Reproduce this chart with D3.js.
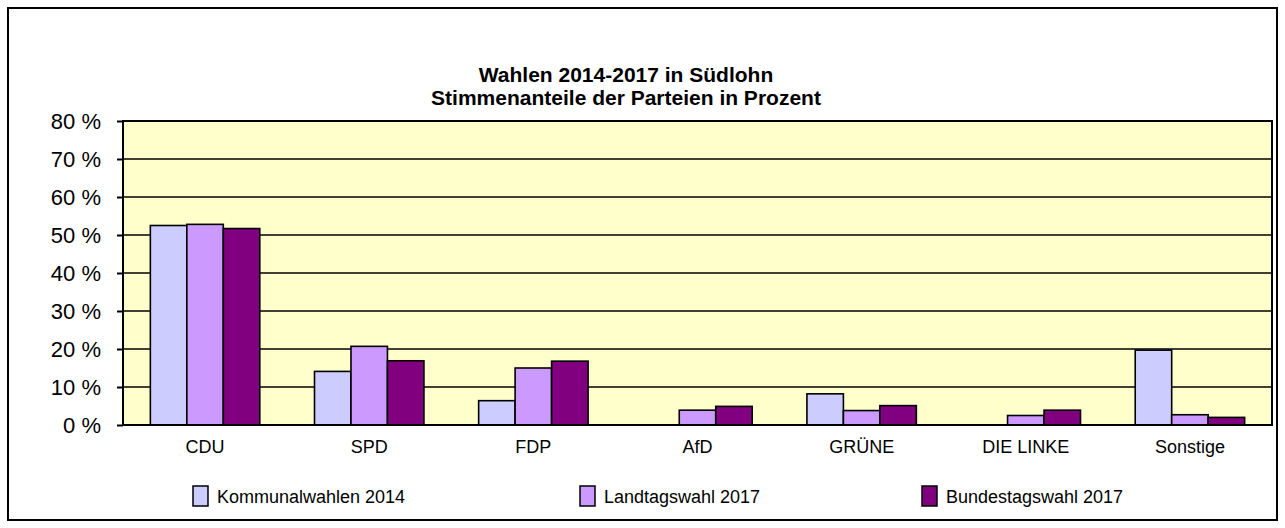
<!DOCTYPE html>
<html><head><meta charset="utf-8">
<script src="https://cdn.jsdelivr.net/npm/d3@7"></script>
<style>html,body{margin:0;padding:0;background:#fff;} svg{display:block;font-family:"Liberation Sans",Arial,sans-serif;}</style>
</head><body>
<script>
const categories = ["CDU","SPD","FDP","AfD","GRÜNE","DIE LINKE","Sonstige"];
const seriesNames = ["Kommunalwahlen 2014","Landtagswahl 2017","Bundestagswahl 2017"];
const kommunal2014 = [52.5,14.1,6.4,0,8.2,0,19.7];
const landtag2017 = [52.8,20.7,15.0,3.9,3.8,2.5,2.7];
const bundestag2017 = [51.7,16.9,16.8,4.9,5.1,3.9,2.0];
const yTicks = [0,10,20,30,40,50,60,70,80];
const titleLines = ["Wahlen 2014-2017 in Südlohn","Stimmenanteile der Parteien in Prozent"];
const colors = ["#CCCCFF","#CC99FF","#800080"];

const W=1285,H=528;
const plot={l:123,r:1272,t:121,b:425};
const svg=d3.select("body").append("svg").attr("width",W).attr("height",H);

svg.append("rect").attr("x",8).attr("y",8).attr("width",1269).attr("height",512)
  .attr("fill","#fff").attr("stroke","#000").attr("stroke-width",2);

const x=d3.scaleBand().domain(categories).range([plot.l,plot.r]).padding(0);
const xs=d3.scaleBand().domain(d3.range(3)).range([0,x.bandwidth()]).paddingInner(0).paddingOuter(0.75);
const y=d3.scaleLinear().domain([0,80]).range([plot.b,plot.t]);

svg.append("rect").attr("x",plot.l).attr("y",plot.t).attr("width",plot.r-plot.l).attr("height",plot.b-plot.t)
  .attr("fill","#FFFFCC");

// gridlines
svg.append("g").selectAll("line").data(yTicks.filter(d=>d>0&&d<80)).join("line")
  .attr("x1",plot.l).attr("x2",plot.r).attr("y1",d=>y(d)).attr("y2",d=>y(d))
  .attr("stroke","#000").attr("stroke-width",1.6);

const series=[kommunal2014,landtag2017,bundestag2017];
series.forEach((vals,si)=>{
  svg.append("g").selectAll("rect").data(vals.map((v,i)=>({c:categories[i],v})).filter(d=>d.v>0)).join("rect")
    .attr("x",d=>x(d.c)+xs(si)).attr("width",xs.bandwidth())
    .attr("y",d=>y(d.v)).attr("height",d=>y(0)-y(d.v))
    .attr("fill",colors[si]).attr("stroke","#000").attr("stroke-width",1.6);
});

// plot border
svg.append("rect").attr("x",plot.l).attr("y",plot.t).attr("width",plot.r-plot.l).attr("height",plot.b-plot.t)
  .attr("fill","none").attr("stroke","#000").attr("stroke-width",2);

// y axis
const yAxis=d3.axisLeft(y).tickValues(yTicks).tickSize(6).tickPadding(16).tickFormat(d=>d+" %");
const ga=svg.append("g").attr("transform",`translate(${plot.l},0)`).call(yAxis);
ga.select(".domain").remove();
ga.selectAll("line").attr("stroke","#000").attr("stroke-width",2);
ga.selectAll("text").attr("font-size",22).attr("fill","#000").attr("font-family","Liberation Sans, Arial, sans-serif");

// x axis labels
const xAxis=d3.axisBottom(x).tickSize(0).tickPadding(15);
const gx=svg.append("g").attr("transform",`translate(0,${plot.b})`).call(xAxis);
gx.select(".domain").remove();
gx.selectAll("text").attr("font-size",18).attr("fill","#000").attr("font-family","Liberation Sans, Arial, sans-serif");

// title
svg.append("g").selectAll("text").data(titleLines).join("text")
  .attr("x",626).attr("y",(d,i)=>82+i*23).attr("text-anchor","middle")
  .attr("font-size",21).attr("font-weight","bold").text(d=>d);

// legend
const legX=[193,580,922];
const lg=svg.append("g").selectAll("g").data(seriesNames).join("g")
  .attr("transform",(d,i)=>`translate(${legX[i]},496)`);
lg.append("rect").attr("x",0).attr("y",-10).attr("width",15).attr("height",20)
  .attr("fill",(d,i)=>colors[i]).attr("stroke","#000").attr("stroke-width",1.5);
lg.append("text").attr("x",24).attr("y",7).attr("font-size",18).text(d=>d);
</script>
</body></html>
